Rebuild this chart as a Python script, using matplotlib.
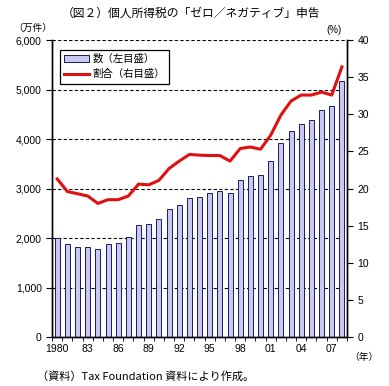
import numpy as np
import matplotlib.pyplot as plt
from matplotlib.ticker import FuncFormatter

plt.rcParams['font.family'] = ['Liberation Sans', 'Noto Sans CJK JP', 'DejaVu Sans']

years = np.arange(1980, 2009)
counts = [2000, 1870, 1825, 1825, 1785, 1886, 1906, 2027, 2256, 2290,
          2384, 2593, 2673, 2800, 2822, 2903, 2950, 2903, 3178, 3252,
          3266, 3549, 3913, 4155, 4309, 4384, 4579, 4660, 5165]
share = [21.3, 19.6, 19.3, 19.0, 18.0, 18.5, 18.5, 19.0, 20.6, 20.5,
         21.1, 22.7, 23.7, 24.6, 24.5, 24.45, 24.45, 23.7, 25.4, 25.6,
         25.3, 27.2, 29.9, 31.8, 32.6, 32.6, 33.0, 32.6, 36.4]
year_labels = ['1980', '83', '86', '89', '92', '95', '98', '01', '04', '07']

fig = plt.figure(figsize=(3.89, 3.86), dpi=100)
ax = fig.add_axes([0.134, 0.127, 0.758, 0.769])
ax2 = ax.twinx()

ax.bar(years, counts, width=0.5, color='#c8c8f0', edgecolor='#1a1a60',
       linewidth=0.7, label='数（左目盛）', zorder=2)
ax2.plot(years, share, color='#e01010', linewidth=2.2, label='割合（右目盛）')

ax.set_ylim(0, 6000)
ax.set_yticks(range(0, 6001, 1000))
ax.yaxis.set_major_formatter(FuncFormatter(lambda v, p: f'{int(v):,}'))
ax2.set_ylim(0, 40)
ax2.set_yticks(range(0, 41, 5))
ax.set_xlim(1979.6, 2008.5)

for v in range(1000, 6001, 1000):
    ax.axhline(v, color='black', linestyle=(0, (3, 2)), linewidth=0.8, zorder=1)

ax.set_xticks(years[::3])
ax.set_xticklabels(year_labels)
ax.set_xticks(np.arange(1979.5, 2009, 1), minor=True)
ax.tick_params(axis='x', which='major', length=0, labelsize=7.5, pad=5)
ax.tick_params(axis='x', which='minor', length=3, direction='out')
ax.tick_params(axis='y', labelsize=7.5, length=4, direction='out')
ax2.tick_params(axis='y', labelsize=7.5, length=4, direction='out')

for a in (ax, ax2):
    a.spines['top'].set_visible(False)
    for s in ('left', 'right', 'bottom'):
        a.spines[s].set_linewidth(1.0)

h1, l1 = ax.get_legend_handles_labels()
h2, l2 = ax2.get_legend_handles_labels()
leg = ax2.legend(h1 + h2, l1 + l2, loc='upper left', bbox_to_anchor=(0.01, 0.985),
                 fancybox=False, edgecolor='black', framealpha=1,
                 handlelength=2.4, handletextpad=0.3, borderpad=0.4,
                 labelspacing=0.5, prop={'family': ['Noto Sans CJK JP'], 'size': 7.5})
leg.get_frame().set_linewidth(0.9)

fig.text(0.49, 0.966, '（図２）個人所得税の「ゼロ／ネガティブ」申告', ha='center', va='center',
         fontsize=8.5, family=['Noto Sans CJK JP'])
fig.text(0.085, 0.928, '（万件）', ha='center', va='center', fontsize=7,
         family=['Noto Sans CJK JP'])
fig.text(0.858, 0.922, '(%)', ha='center', va='center', fontsize=7)
fig.text(0.935, 0.075, '（年）', ha='center', va='center', fontsize=7,
         family=['Noto Sans CJK JP'])
fig.text(0.095, 0.025, '（資料）Tax Foundation 資料により作成。', ha='left', va='center',
         fontsize=8, family=['Noto Sans CJK JP'])

fig.savefig('out.png', dpi=100)
